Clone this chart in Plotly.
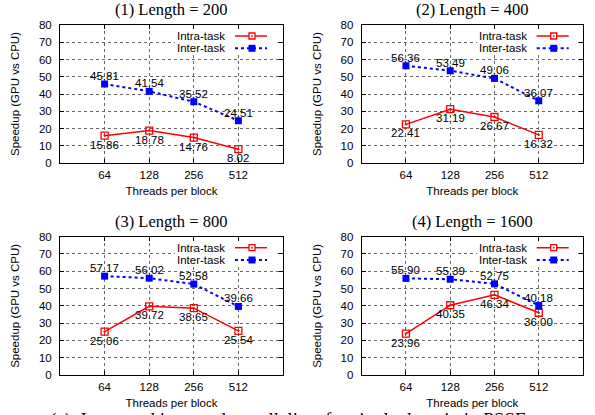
import plotly.graph_objects as go

threads = ["64", "128", "256", "512"]
titles = ["(1) Length = 200", "(2) Length = 400", "(3) Length = 800", "(4) Length = 1600"]
intra = [
    [15.86, 18.78, 14.76, 8.02],
    [22.41, 31.19, 26.67, 16.32],
    [25.06, 39.72, 38.65, 25.54],
    [23.96, 40.35, 46.34, 36.00],
]
inter = [
    [45.81, 41.54, 35.52, 24.51],
    [56.36, 53.49, 49.06, 36.07],
    [57.17, 56.02, 52.58, 39.66],
    [55.90, 55.39, 52.75, 40.18],
]
y_ticks = [0, 10, 20, 30, 40, 50, 60, 70, 80]
caption = "(a)  Intra- and inter-task parallelism for single domain in PSSE"

W, H = 595, 415
RED = "#ff0000"
BLUE = "#0000ff"
FONT = "Liberation Sans"
SERIF = "Liberation Serif"

# panel pixel boxes: (left, right, top, bottom)
boxes = [
    (60, 283, 25, 163),
    (361.7, 583, 25, 163),
    (60, 283, 236.7, 375),
    (361.7, 583, 236.7, 375),
]


def px(xx):
    return xx / W


def py(yy):
    return 1 - yy / H


fig = go.Figure()
annotations = []
shapes = []

for i in range(4):
    k = "" if i == 0 else str(i + 1)
    xa, ya = "x" + k, "y" + k
    l, r, t, b = boxes[i]
    fig.add_trace(go.Scatter(
        x=threads, y=intra[i], xaxis=xa, yaxis=ya, mode="lines+markers",
        line=dict(color=RED, width=1.5),
        marker=dict(symbol="square-open-dot", size=7, color=RED, line=dict(width=1.3, color=RED)),
        showlegend=False, cliponaxis=False))
    fig.add_trace(go.Scatter(
        x=threads, y=inter[i], xaxis=xa, yaxis=ya, mode="lines+markers",
        line=dict(color=BLUE, width=2, dash="dot"),
        marker=dict(symbol="square", size=7, color=BLUE),
        showlegend=False, cliponaxis=False))
    axis_common = dict(
        showline=True, linecolor="black", linewidth=1, mirror="allticks",
        ticks="inside", ticklen=4, tickcolor="black", automargin=False,
        showgrid=True, gridcolor="#666666", griddash="dot", gridwidth=1,
        zeroline=False, tickfont=dict(family=FONT, size=11.5, color="black"),
    )
    fig.update_layout(**{
        ("xaxis" + k): dict(
            domain=[px(l), px(r)], anchor=ya, type="category",
            categoryorder="array", categoryarray=threads,
            range=[-1, 4], ticklabelstandoff=1,
            title=dict(text="Threads per block", font=dict(family=FONT, size=11.5, color="black"), standoff=7),
            **axis_common),
        ("yaxis" + k): dict(
            domain=[py(b), py(t)], anchor=xa, range=[0, 80],
            tickvals=y_ticks, ticklabelstandoff=5,
            title=dict(text="Speedup (GPU vs CPU)", font=dict(family=FONT, size=11.5, color="black"), standoff=16),
            **axis_common),
    })
    # panel title
    annotations.append(dict(
        text=titles[i], xref="paper", yref="paper", x=px((l + r) / 2), y=py(t - 15.5),
        xanchor="center", yanchor="middle", showarrow=False,
        font=dict(family=SERIF, size=16.5, color="black")))
    # value labels (x given as category index)
    for j in range(len(threads)):
        annotations.append(dict(
            text="%.2f" % inter[i][j], x=j, y=inter[i][j], xref=xa, yref=ya,
            xanchor="center", showarrow=False, yshift=8,
            font=dict(family=FONT, size=11.5, color="black")))
        annotations.append(dict(
            text="%.2f" % intra[i][j], x=j, y=intra[i][j], xref=xa, yref=ya,
            xanchor="center", showarrow=False, yshift=-9,
            font=dict(family=FONT, size=11.5, color="black")))
    # gnuplot-style key, drawn in paper pixels
    key_l, key_r = l + 115, r - 5.5
    key_t, key_b = t + 5, t + 28
    shapes.append(dict(type="rect", xref="paper", yref="paper", x0=px(key_l), x1=px(key_r),
                       y0=py(key_b), y1=py(key_t), fillcolor="white", line=dict(width=0), layer="above"))
    text_r = l + 167
    ln0, ln1 = l + 175, l + 207
    mk = l + 192
    for name, yy in [("Intra-task", t + 11), ("Inter-task", t + 23.3)]:
        annotations.append(dict(text=name, xref="paper", yref="paper", x=px(text_r), y=py(yy),
                                xanchor="right", yanchor="middle", showarrow=False,
                                font=dict(family=FONT, size=11.5, color="black")))
    shapes.append(dict(type="line", xref="paper", yref="paper", x0=px(ln0), x1=px(ln1),
                       y0=py(t + 11), y1=py(t + 11), line=dict(color=RED, width=1.5), layer="above"))
    shapes.append(dict(type="line", xref="paper", yref="paper", x0=px(ln0), x1=px(ln1),
                       y0=py(t + 23.3), y1=py(t + 23.3), line=dict(color=BLUE, width=2, dash="dot"), layer="above"))
    shapes.append(dict(type="rect", xref="paper", yref="paper", x0=px(mk - 3), x1=px(mk + 3),
                       y0=py(t + 14), y1=py(t + 8), fillcolor="white", line=dict(color=RED, width=1.3), layer="above"))
    shapes.append(dict(type="rect", xref="paper", yref="paper", x0=px(mk - 0.8), x1=px(mk + 0.8),
                       y0=py(t + 11.8), y1=py(t + 10.2), fillcolor=RED, line=dict(width=0), layer="above"))
    shapes.append(dict(type="rect", xref="paper", yref="paper", x0=px(mk - 3.5), x1=px(mk + 3.5),
                       y0=py(t + 26.8), y1=py(t + 19.8), fillcolor=BLUE, line=dict(width=0), layer="above"))

annotations.append(dict(text=caption, xref="paper", yref="paper", x=px(288.5), y=py(420),
                        xanchor="center", yanchor="middle", showarrow=False,
                        font=dict(family=SERIF, size=19, color="black")))

fig.update_layout(
    annotations=annotations, shapes=shapes,
    width=W, height=H, margin=dict(l=0, r=0, t=0, b=0),
    paper_bgcolor="white", plot_bgcolor="white", showlegend=False,
)
fig.write_html("out.html", config={"displayModeBar": False},
               post_script="document.body.style.margin='0px';")
